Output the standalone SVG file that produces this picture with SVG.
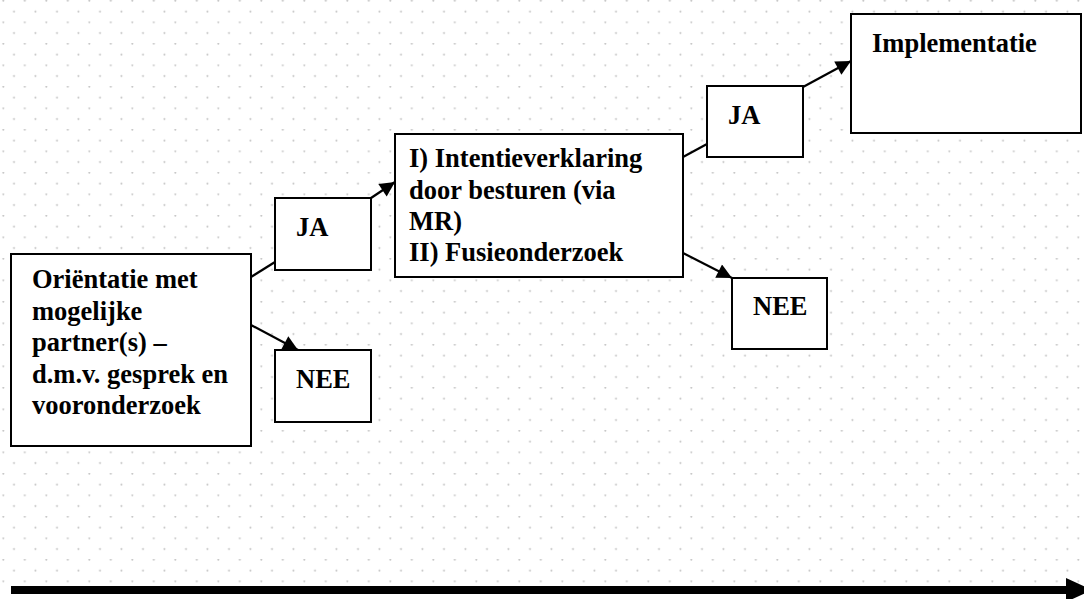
<svg xmlns="http://www.w3.org/2000/svg" width="1084" height="599" viewBox="0 0 1084 599">
  <style>
    .box { fill: #ffffff; stroke: #000000; stroke-width: 2; }
    .lbl { font-family: "Liberation Serif", "Times New Roman", Tinos, serif; font-weight: bold; font-size: 26.5px; fill: #000000; }
    .conn { stroke: #000000; stroke-width: 2.2; fill: none; }
  </style>
  <defs>
    <pattern id="dots" patternUnits="userSpaceOnUse" x="0" y="0" width="21.5" height="21.5">
      <circle cx="3.3" cy="0.8" r="1" fill="#c4c4c4"/>
      <circle cx="14" cy="11.6" r="1" fill="#c4c4c4"/>
    </pattern>
    <marker id="ah" viewBox="0 0 10 10" refX="10" refY="5" markerWidth="17" markerHeight="15" markerUnits="userSpaceOnUse" orient="auto">
      <path d="M0,0 L10,5 L0,10 z" fill="#000000"/>
    </marker>
  </defs>
  <rect x="0" y="0" width="1084" height="599" fill="#ffffff"/>
  <rect x="0" y="0" width="1084" height="599" fill="url(#dots)"/>

  <g id="connectors">
    <line class="conn" x1="251" y1="277" x2="275" y2="262"/>
    <line class="conn" x1="251" y1="325" x2="298" y2="350" marker-end="url(#ah)"/>
    <line class="conn" x1="371" y1="198" x2="395" y2="182" marker-end="url(#ah)"/>
    <line class="conn" x1="683" y1="157" x2="707" y2="144"/>
    <line class="conn" x1="803" y1="87" x2="851" y2="61" marker-end="url(#ah)"/>
    <line class="conn" x1="683" y1="253" x2="732" y2="278" marker-end="url(#ah)"/>
    <rect x="11" y="586" width="1057" height="8" fill="#000000"/>
    <polygon points="1066,578 1092,590 1066,602" fill="#000000"/>
  </g>

  <g id="node-orientatie">
    <rect class="box" x="11" y="254" width="240" height="192"/>
    <text class="lbl" x="32" y="288">Oriëntatie met</text>
    <text class="lbl" x="32" y="319.5">mogelijke</text>
    <text class="lbl" x="32" y="351">partner(s) –</text>
    <text class="lbl" x="32" y="382.5">d.m.v. gesprek en</text>
    <text class="lbl" x="32" y="414">vooronderzoek</text>
  </g>

  <g id="node-ja1">
    <rect class="box" x="275" y="198" width="96" height="72"/>
    <text class="lbl" x="296" y="236">JA</text>
  </g>

  <g id="node-nee1">
    <rect class="box" x="275" y="350" width="96" height="72"/>
    <text class="lbl" x="296" y="388">NEE</text>
  </g>

  <g id="node-intentie">
    <rect class="box" x="395" y="134" width="288" height="143"/>
    <text class="lbl" x="409" y="167">I) Intentieverklaring</text>
    <text class="lbl" x="409" y="198.5">door besturen (via</text>
    <text class="lbl" x="409" y="230">MR)</text>
    <text class="lbl" x="409" y="261">II) Fusieonderzoek</text>
  </g>

  <g id="node-ja2">
    <rect class="box" x="707" y="86" width="96" height="71"/>
    <text class="lbl" x="728" y="124">JA</text>
  </g>

  <g id="node-nee2">
    <rect class="box" x="732" y="278" width="95" height="71"/>
    <text class="lbl" x="753" y="315">NEE</text>
  </g>

  <g id="node-implementatie">
    <rect class="box" x="851" y="14" width="230" height="119"/>
    <text class="lbl" x="872" y="52">Implementatie</text>
  </g>
</svg>
